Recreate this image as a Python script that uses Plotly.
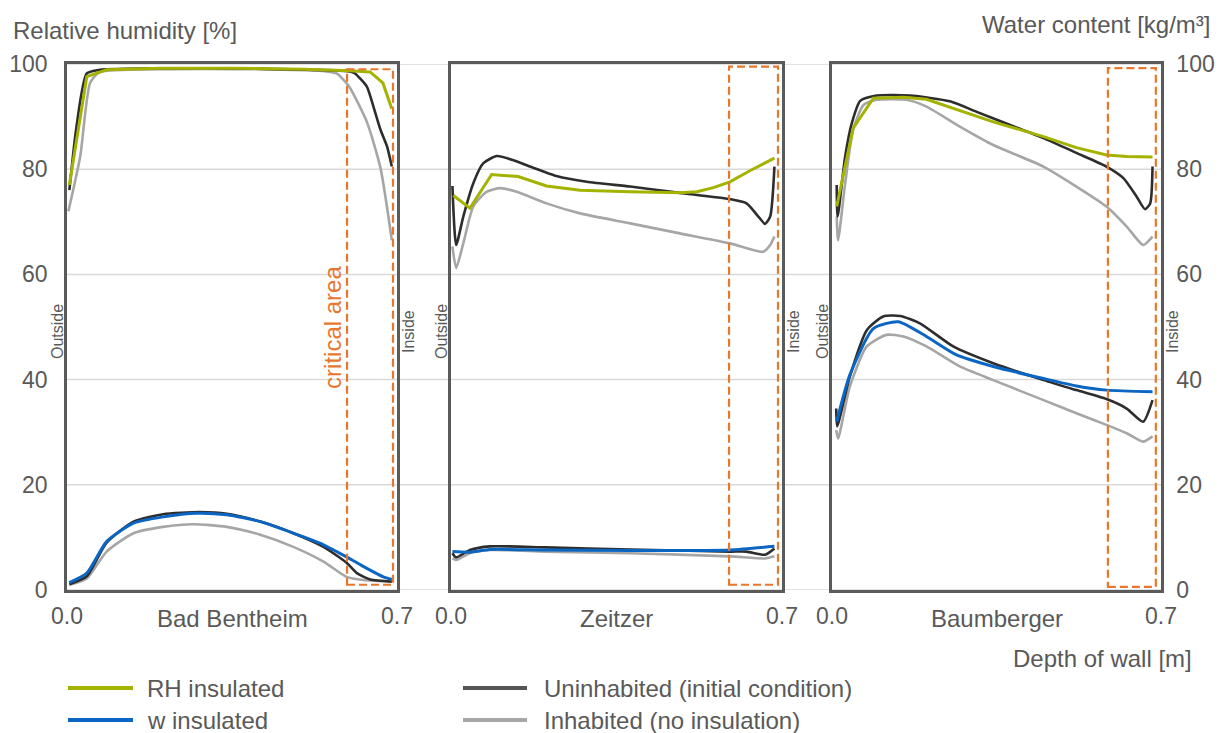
import plotly.graph_objects as go

# ---------------- data ----------------
PANEL_NAMES = ["Bad Bentheim", "Zeitzer", "Baumberger"]
X_TICK_VALS = [0.0, 0.7]
X_TICK_TEXT = ["0.0", "0.7"]
Y_TICK_VALS = [0, 20, 40, 60, 80, 100]
SERIES_NAMES = ["RH insulated", "w insulated", "Uninhabited (initial condition)", "Inhabited (no insulation)"]
CRITICAL_X = [[0.594, 0.6915], [0.588, 0.6915], [0.587, 0.689]]
CRITICAL_Y = [[1.0, 99.0], [1.0, 99.5], [0.6, 99.2]]

# Bad Bentheim
bb_rh_ins_x = [0.005, 0.042, 0.084, 0.2, 0.35, 0.5, 0.6, 0.643, 0.67, 0.689]
bb_rh_ins_y = [77, 97.6, 98.9, 99.2, 99.2, 99.0, 98.7, 98.5, 96.4, 91.5]
bb_rh_unin_x = [0.005, 0.02, 0.042, 0.07, 0.2, 0.4, 0.6, 0.611, 0.636, 0.65, 0.665, 0.679, 0.689]
bb_rh_unin_y = [76, 88, 98.2, 98.9, 99.2, 99.1, 98.6, 98.2, 95.7, 91.9, 87.5, 84.3, 80.5]
bb_rh_inh_x = [0.003, 0.028, 0.049, 0.07, 0.2, 0.4, 0.55, 0.572, 0.597, 0.636, 0.665, 0.689]
bb_rh_inh_y = [72, 82.4, 96.4, 98.5, 99.0, 99.0, 98.6, 98.2, 95.9, 89, 80.2, 66.5]
bb_w_ins_x = [0.005, 0.042, 0.084, 0.141, 0.204, 0.275, 0.339, 0.41, 0.48, 0.544, 0.593, 0.636, 0.671, 0.689]
bb_w_ins_y = [1.4, 3.2, 9.2, 12.7, 13.9, 14.6, 14.3, 13.0, 10.8, 8.6, 6.3, 4.1, 2.5, 2.0]
bb_w_unin_x = [0.005, 0.042, 0.084, 0.141, 0.204, 0.28, 0.339, 0.41, 0.48, 0.544, 0.593, 0.615, 0.643, 0.689]
bb_w_unin_y = [1.1, 2.6, 9.0, 13.0, 14.4, 14.8, 14.5, 13.0, 10.8, 8.2, 5.2, 3.2, 2.0, 1.6]
bb_w_inh_x = [0.005, 0.042, 0.084, 0.141, 0.204, 0.268, 0.339, 0.41, 0.48, 0.544, 0.593, 0.629, 0.689]
bb_w_inh_y = [1.0, 2.2, 7.3, 10.8, 12.0, 12.5, 12.0, 10.5, 8.2, 5.4, 2.5, 1.9, 1.6]

# Zeitzer
zt_rh_ins_x = [0.005, 0.04, 0.086, 0.142, 0.202, 0.273, 0.379, 0.484, 0.52, 0.555, 0.59, 0.632, 0.684]
zt_rh_ins_y = [75, 72.6, 79.0, 78.6, 76.8, 76.0, 75.7, 75.5, 75.7, 76.5, 77.6, 79.7, 82.1]
zt_rh_unin_x = [0.003, 0.011, 0.026, 0.047, 0.068, 0.097, 0.132, 0.167, 0.223, 0.287, 0.379, 0.484, 0.59, 0.625, 0.65, 0.664, 0.675, 0.684]
zt_rh_unin_y = [76.8, 65.6, 71, 77.3, 81.1, 82.5, 81.7, 80.5, 78.7, 77.6, 76.7, 75.5, 74.3, 73.5, 71, 69.6, 71, 80.5]
zt_rh_inh_x = [0.003, 0.011, 0.026, 0.047, 0.075, 0.104, 0.139, 0.202, 0.273, 0.379, 0.484, 0.59, 0.66, 0.675, 0.684]
zt_rh_inh_y = [65.3, 61.2, 65.9, 72.9, 75.7, 76.4, 75.7, 73.5, 71.6, 69.7, 67.8, 65.9, 64.3, 65.6, 67.2]
zt_w_ins_x = [0.003, 0.04, 0.082, 0.2, 0.379, 0.59, 0.684]
zt_w_ins_y = [7.3, 7.2, 7.7, 7.6, 7.5, 7.6, 8.3]
zt_w_unin_x = [0.003, 0.011, 0.04, 0.082, 0.2, 0.379, 0.59, 0.625, 0.664, 0.684]
zt_w_unin_y = [7.0, 6.2, 7.6, 8.3, 8.1, 7.7, 7.3, 7.3, 6.7, 7.9]
zt_w_inh_x = [0.003, 0.011, 0.04, 0.082, 0.2, 0.379, 0.59, 0.664, 0.684]
zt_w_inh_y = [6.0, 5.7, 7.0, 7.6, 7.3, 7.0, 6.4, 6.0, 6.4]

# Baumberger
bm_rh_ins_x = [0.010, 0.045, 0.088, 0.152, 0.201, 0.258, 0.343, 0.45, 0.52, 0.584, 0.627, 0.682]
bm_rh_ins_y = [72.9, 87.8, 93.5, 93.7, 93.3, 91.6, 89.0, 86.2, 84.1, 82.7, 82.4, 82.3]
bm_rh_unin_x = [0.010, 0.012, 0.028, 0.042, 0.06, 0.095, 0.166, 0.251, 0.308, 0.379, 0.45, 0.52, 0.584, 0.62, 0.648, 0.666, 0.677, 0.682]
bm_rh_unin_y = [77, 71, 82.4, 88.7, 93.0, 94.0, 94.0, 92.9, 90.9, 88.4, 85.9, 83.1, 80.5, 78.3, 74.8, 72.4, 73.5, 80.5]
bm_rh_inh_x = [0.010, 0.013, 0.028, 0.045, 0.067, 0.095, 0.159, 0.201, 0.272, 0.343, 0.45, 0.52, 0.584, 0.627, 0.662, 0.682]
bm_rh_inh_y = [71, 66.5, 77.3, 87.5, 92.2, 93.2, 93.2, 91.9, 88.1, 84.6, 80.5, 76.7, 72.9, 69.1, 65.6, 67.2]
bm_w_ins_x = [0.010, 0.038, 0.088, 0.141, 0.201, 0.265, 0.343, 0.45, 0.52, 0.584, 0.682]
bm_w_ins_y = [32.0, 40.9, 49.7, 51.0, 48.2, 44.7, 42.5, 40.2, 38.8, 38.0, 37.7]
bm_w_unin_x = [0.009, 0.011, 0.038, 0.074, 0.109, 0.145, 0.187, 0.258, 0.343, 0.45, 0.52, 0.584, 0.627, 0.662, 0.682]
bm_w_unin_y = [34.5, 31.1, 40.6, 49.4, 52.0, 52.1, 50.7, 46.3, 43.1, 39.9, 38.0, 36.3, 34.5, 32.0, 36.1]
bm_w_inh_x = [0.009, 0.013, 0.038, 0.074, 0.116, 0.152, 0.201, 0.272, 0.343, 0.45, 0.52, 0.584, 0.627, 0.662, 0.682]
bm_w_inh_y = [30.4, 28.8, 38.7, 46.3, 48.5, 48.2, 46.3, 42.5, 39.9, 36.1, 33.6, 31.4, 29.8, 28.2, 29.2]

# ---------------- style ----------------
W, H = 1223, 733
ML, MR, MT, MB = 67, 62, 64, 143
PW, PH = W - ML - MR, H - MT - MB
GREEN = "#a3b300"
BLUE = "#0b66c3"
DARK = "#2d2d2d"
GRAY = "#a6a6a6"
LEG_DARK = "#555555"
ORANGE = "#e8772e"
TEXT = "#595959"
FRAME = "#5a5a5a"
GRID = "#d9d9d9"
FONT = "Liberation Sans, Arial, sans-serif"
FS = 24
TICK_FS = 23


def px_x(px):
    return (px - ML) / PW


def px_y(py):
    return (MT + PH - py) / PH


DOMAINS = [[px_x(67), px_x(397)], [px_x(451), px_x(782)], [px_x(832), px_x(1161)]]

panel_data = [
    [(bb_rh_inh_x, bb_rh_inh_y, GRAY), (bb_w_inh_x, bb_w_inh_y, GRAY),
     (bb_rh_unin_x, bb_rh_unin_y, DARK), (bb_w_unin_x, bb_w_unin_y, DARK),
     (bb_w_ins_x, bb_w_ins_y, BLUE), (bb_rh_ins_x, bb_rh_ins_y, GREEN)],
    [(zt_rh_inh_x, zt_rh_inh_y, GRAY), (zt_w_inh_x, zt_w_inh_y, GRAY),
     (zt_rh_unin_x, zt_rh_unin_y, DARK), (zt_w_unin_x, zt_w_unin_y, DARK),
     (zt_w_ins_x, zt_w_ins_y, BLUE), (zt_rh_ins_x, zt_rh_ins_y, GREEN)],
    [(bm_rh_inh_x, bm_rh_inh_y, GRAY), (bm_w_inh_x, bm_w_inh_y, GRAY),
     (bm_rh_unin_x, bm_rh_unin_y, DARK), (bm_w_unin_x, bm_w_unin_y, DARK),
     (bm_w_ins_x, bm_w_ins_y, BLUE), (bm_rh_ins_x, bm_rh_ins_y, GREEN)],
]
color_name = {GREEN: SERIES_NAMES[0], BLUE: SERIES_NAMES[1], DARK: SERIES_NAMES[2], GRAY: SERIES_NAMES[3]}

fig = go.Figure()
for i, curves in enumerate(panel_data):
    suf = "" if i == 0 else str(i + 1)
    for xs, ys, c in curves:
        shape = "linear" if c == GREEN else "spline"
        fig.add_trace(go.Scatter(
            x=xs, y=ys, mode="lines", name=color_name[c], showlegend=False,
            line=dict(color=c, width=3 if c in (GREEN, BLUE) else 2.6, shape=shape, smoothing=0.6),
            xaxis="x" + suf, yaxis="y" + suf, hoverinfo="skip"))

shapes = []
annotations = []
# horizontal gridlines across all panels
for v in Y_TICK_VALS:
    shapes.append(dict(type="line", xref="paper", yref="y", x0=0, x1=1, y0=v, y1=v,
                       line=dict(color=GRID, width=1.5), layer="below"))

for i in range(3):
    suf = "" if i == 0 else str(i + 1)
    # critical-area dashed box
    shapes.append(dict(type="rect", xref="x" + suf, yref="y" + suf,
                       x0=CRITICAL_X[i][0], x1=CRITICAL_X[i][1], y0=CRITICAL_Y[i][0], y1=CRITICAL_Y[i][1],
                       line=dict(color=ORANGE, width=2.2, dash="8px,4px"), layer="above"))
    d0, d1 = DOMAINS[i]
    # panel name
    annotations.append(dict(text=PANEL_NAMES[i], xref="paper", yref="paper", x=(d0 + d1) / 2, y=px_y(618),
                            xanchor="center", yanchor="middle", showarrow=False,
                            font=dict(size=FS, color=TEXT, family=FONT)))
    annotations.append(dict(text="Outside", xref="paper", yref="paper", x=d0, xshift=-10, y=px_y(332),
                            xanchor="center", yanchor="middle", textangle=-90, showarrow=False,
                            font=dict(size=16, color=TEXT, family=FONT)))
    annotations.append(dict(text="Inside", xref="paper", yref="paper", x=d1, xshift=11, y=px_y(332),
                            xanchor="center", yanchor="middle", textangle=-90, showarrow=False,
                            font=dict(size=16, color=TEXT, family=FONT)))

annotations.append(dict(text="critical area", xref="x", yref="y", x=0.562, y=50, xanchor="center",
                        yanchor="middle", textangle=-90, showarrow=False,
                        font=dict(size=FS, color=ORANGE, family=FONT)))
annotations.append(dict(text="Relative humidity [%]", xref="paper", yref="paper", x=px_x(11), y=px_y(30),
                        xanchor="left", yanchor="middle", showarrow=False,
                        font=dict(size=FS, color=TEXT, family=FONT)))
annotations.append(dict(text="Water content [kg/m³]", xref="paper", yref="paper", x=px_x(1213), y=px_y(24),
                        xanchor="right", yanchor="middle", showarrow=False,
                        font=dict(size=FS, color=TEXT, family=FONT)))
annotations.append(dict(text="Depth of wall [m]", xref="paper", yref="paper", x=px_x(1194), y=px_y(658),
                        xanchor="right", yanchor="middle", showarrow=False,
                        font=dict(size=FS, color=TEXT, family=FONT)))

# manual legend
legend_items = [
    (SERIES_NAMES[0], GREEN, 68, 133, 145, 688),
    (SERIES_NAMES[1], BLUE, 68, 133, 145, 720),
    (SERIES_NAMES[2], LEG_DARK, 463, 527, 542, 688),
    (SERIES_NAMES[3], GRAY, 463, 527, 542, 720),
]
for name, c, lx0, lx1, tx, ly in legend_items:
    shapes.append(dict(type="line", xref="paper", yref="paper", x0=px_x(lx0), x1=px_x(lx1),
                       y0=px_y(ly), y1=px_y(ly), line=dict(color=c, width=4)))
    annotations.append(dict(text=name, xref="paper", yref="paper", x=px_x(tx), y=px_y(ly),
                            xanchor="left", yanchor="middle", showarrow=False,
                            font=dict(size=FS, color=TEXT, family=FONT)))

layout = dict(
    width=W, height=H, margin=dict(l=ML, r=MR, t=MT, b=MB, autoexpand=False), autosize=False,
    paper_bgcolor="white", plot_bgcolor="rgba(0,0,0,0)", showlegend=False,
    shapes=shapes, annotations=annotations, font=dict(family=FONT, color=TEXT),
)
for i in range(3):
    suf = "" if i == 0 else str(i + 1)
    layout["xaxis" + suf] = dict(
        domain=DOMAINS[i], range=[0, 0.7], tickvals=X_TICK_VALS, ticktext=X_TICK_TEXT,
        showgrid=False, zeroline=False, showline=True, mirror=True, linecolor=FRAME, linewidth=2.5,
        ticks="", ticklabelstandoff=4, tickfont=dict(size=TICK_FS, color=TEXT, family=FONT),
        anchor="y" + suf, fixedrange=True, automargin=False)
    layout["yaxis" + suf] = dict(
        range=[0, 100], tickvals=Y_TICK_VALS, showgrid=False, zeroline=False, showline=True, mirror=True,
        linecolor=FRAME, linewidth=2.5, ticks="", anchor="x" + suf,
        showticklabels=(i != 1), side="right" if i == 2 else "left",
        ticklabelstandoff=(8 if i == 2 else 12), tickfont=dict(size=TICK_FS, color=TEXT, family=FONT),
        fixedrange=True, automargin=False)

fig.update_layout(**layout)
fig.write_html("out.html")
